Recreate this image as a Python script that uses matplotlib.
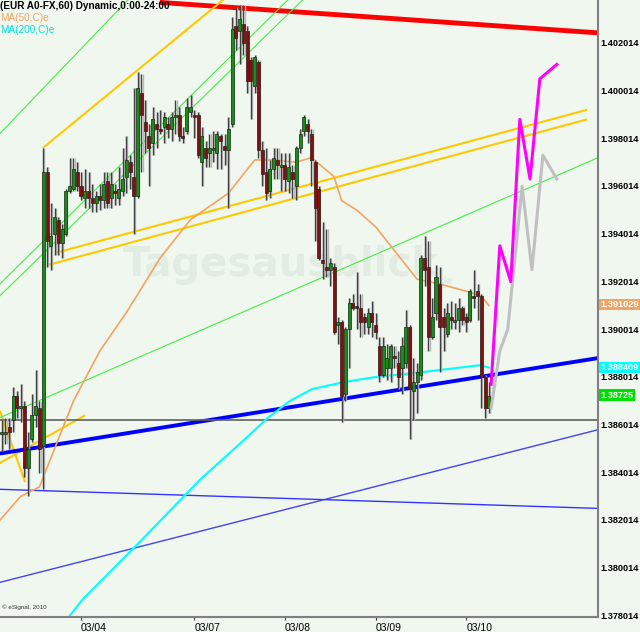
import matplotlib
matplotlib.use("Agg")
import matplotlib.pyplot as plt
import matplotlib.transforms as mtrans

# hourly candles, EUR/USD
opens = [
    1.3856, 1.3856, 1.3859, 1.3862, 1.3872, 1.3867, 1.3868, 1.3842, 1.3854, 1.3864,
    1.3867, 1.3851, 1.3966, 1.3935, 1.3940, 1.3946, 1.3936, 1.3940, 1.3958, 1.3959,
    1.3966, 1.3960, 1.3955, 1.3958, 1.3955, 1.3953, 1.3956, 1.3954, 1.3962, 1.3955,
    1.3958, 1.3955, 1.3958, 1.3964, 1.3970, 1.3964, 1.3956, 1.3999, 1.3987, 1.3981,
    1.3978, 1.3986, 1.3984, 1.3985, 1.3986, 1.3984, 1.3989, 1.3990, 1.3981, 1.3983,
    1.3991, 1.3990, 1.3990, 1.3970, 1.3976, 1.3974, 1.3975, 1.3974, 1.3981, 1.3977,
    1.3975, 1.3986, 1.4027, 1.4025, 1.4028, 1.4025, 1.4013, 1.4002, 1.4012, 1.3975,
    1.3966, 1.3958, 1.3967, 1.3971, 1.3968, 1.3969, 1.3962, 1.3966, 1.3960, 1.3976,
    1.3983, 1.3986, 1.3982, 1.3970, 1.3959, 1.3929, 1.3926, 1.3925, 1.3926, 1.3902,
    1.3903, 1.3873, 1.3900, 1.3911, 1.3910, 1.3909, 1.3905, 1.3901, 1.3907, 1.3902,
    1.3893, 1.3881, 1.3884, 1.3884, 1.3889, 1.3886, 1.3884, 1.3886, 1.3901, 1.3874,
    1.3878, 1.3881, 1.3930, 1.3926, 1.3897, 1.3907, 1.3919, 1.3905, 1.3898, 1.3905,
    1.3903, 1.3904, 1.3909, 1.3905, 1.3904, 1.3914, 1.3916, 1.3914, 1.3880, 1.3867,
]
highs = [
    1.3862, 1.3863, 1.3863, 1.3876, 1.3874, 1.3877, 1.3870, 1.3857, 1.3873, 1.3883,
    1.3870, 1.3976, 1.3968, 1.3953, 1.3951, 1.3947, 1.3944, 1.3959, 1.3972, 1.3972,
    1.3970, 1.3966, 1.3967, 1.3966, 1.3961, 1.3958, 1.3961, 1.3966, 1.3966, 1.3966,
    1.3961, 1.3968, 1.3976, 1.3981, 1.3973, 1.4001, 1.4008, 1.4007, 1.3996, 1.3986,
    1.3993, 1.3991, 1.3992, 1.3991, 1.3989, 1.3991, 1.3996, 1.3993, 1.3985, 1.3997,
    1.3998, 1.3992, 1.3991, 1.3985, 1.3979, 1.3982, 1.3983, 1.3983, 1.3982, 1.3982,
    1.3989, 1.4031, 1.4035, 1.4036, 1.4036, 1.4027, 1.4014, 1.4015, 1.4013, 1.3979,
    1.3976, 1.3971, 1.3976, 1.3976, 1.3974, 1.3974, 1.3974, 1.3969, 1.3977, 1.3984,
    1.3990, 1.3988, 1.3984, 1.3971, 1.3960, 1.3945, 1.3942, 1.3930, 1.3928, 1.3905,
    1.3904, 1.3901, 1.3913, 1.3915, 1.3924, 1.3915, 1.3907, 1.3909, 1.3912, 1.3907,
    1.3897, 1.3897, 1.3894, 1.3894, 1.3893, 1.3891, 1.3897, 1.3908, 1.3902, 1.3888,
    1.3886, 1.3931, 1.3939, 1.3937, 1.3913, 1.3927, 1.3926, 1.3909, 1.3911, 1.3912,
    1.3911, 1.3913, 1.3910, 1.3907, 1.3917, 1.3925, 1.3919, 1.3915, 1.3881, 1.3878,
]
lows = [
    1.3849, 1.3852, 1.3850, 1.3857, 1.3863, 1.3861, 1.3838, 1.3830, 1.3853, 1.3859,
    1.3840, 1.3833, 1.3926, 1.3925, 1.3931, 1.3931, 1.3930, 1.3939, 1.3957, 1.3958,
    1.3958, 1.3954, 1.3951, 1.3951, 1.3949, 1.3949, 1.3950, 1.3951, 1.3951, 1.3951,
    1.3952, 1.3952, 1.3956, 1.3957, 1.3959, 1.3940, 1.3955, 1.3966, 1.3974, 1.3960,
    1.3973, 1.3976, 1.3982, 1.3978, 1.3980, 1.3979, 1.3982, 1.3979, 1.3978, 1.3982,
    1.3989, 1.3980, 1.3972, 1.3960, 1.3968, 1.3968, 1.3970, 1.3967, 1.3967, 1.3969,
    1.3951, 1.3985, 1.4017, 1.4011, 1.4015, 1.3999, 1.3988, 1.3999, 1.3972, 1.3960,
    1.3954, 1.3955, 1.3963, 1.3963, 1.3958, 1.3958, 1.3957, 1.3955, 1.3954, 1.3974,
    1.3981, 1.3978, 1.3960, 1.3937, 1.3929, 1.3921, 1.3922, 1.3918, 1.3898, 1.3894,
    1.3861, 1.3870, 1.3884, 1.3908, 1.3900, 1.3897, 1.3898, 1.3898, 1.3897, 1.3896,
    1.3878, 1.3880, 1.3879, 1.3878, 1.3884, 1.3875, 1.3873, 1.3884, 1.3854, 1.3862,
    1.3865, 1.3879, 1.3918, 1.3891, 1.3896, 1.3904, 1.3882, 1.3891, 1.3897, 1.3900,
    1.3900, 1.3899, 1.3902, 1.3899, 1.3903, 1.3909, 1.3904, 1.3867, 1.3863, 1.3865,
]
closes = [
    1.3857, 1.3857, 1.3857, 1.3872, 1.3867, 1.3868, 1.3842, 1.3850, 1.3864, 1.3868,
    1.3850, 1.3966, 1.3937, 1.3939, 1.3947, 1.3936, 1.3942, 1.3958, 1.3960, 1.3967,
    1.3960, 1.3956, 1.3958, 1.3955, 1.3953, 1.3956, 1.3954, 1.3961, 1.3953, 1.3961,
    1.3957, 1.3959, 1.3963, 1.3971, 1.3966, 1.3956, 1.4001, 1.3990, 1.3983, 1.3976,
    1.3988, 1.3984, 1.3983, 1.3989, 1.3984, 1.3989, 1.3990, 1.3981, 1.3980, 1.3993,
    1.3993, 1.3989, 1.3973, 1.3981, 1.3972, 1.3976, 1.3976, 1.3982, 1.3979, 1.3975,
    1.3984, 1.4026, 1.4022, 1.4030, 1.4020, 1.4004, 1.4004, 1.4014, 1.3975, 1.3965,
    1.3957, 1.3967, 1.3972, 1.3969, 1.3969, 1.3963, 1.3968, 1.3963, 1.3976, 1.3982,
    1.3989, 1.3983, 1.3971, 1.3951, 1.3930, 1.3928, 1.3925, 1.3928, 1.3899, 1.3903,
    1.3872, 1.3900, 1.3911, 1.3909, 1.3909, 1.3903, 1.3903, 1.3907, 1.3903, 1.3899,
    1.3881, 1.3893, 1.3888, 1.3893, 1.3888, 1.3880, 1.3893, 1.3901, 1.3875, 1.3878,
    1.3882, 1.3930, 1.3925, 1.3897, 1.3905, 1.3922, 1.3901, 1.3901, 1.3907, 1.3904,
    1.3904, 1.3909, 1.3904, 1.3903, 1.3916, 1.3913, 1.3914, 1.3880, 1.3867, 1.3872,
]

# moving averages (bar, price)
ma50_bars = [-0.5, 5, 10, 19, 26, 33, 42, 50, 60, 67, 72, 78, 82, 88, 90, 94, 99, 106, 110, 116, 123, 127, 129]
ma50_vals = [1.3820, 1.3830, 1.3834, 1.3870, 1.3891, 1.3907, 1.3930, 1.3946, 1.3957, 1.3971, 1.3971, 1.3970,
             1.3972, 1.3964, 1.3954, 1.3950, 1.3943, 1.3929, 1.3921, 1.3919, 1.3916, 1.3914, 1.3910]
ma200_bars = [16, 21.5, 36.6, 52.5, 64.4, 70.5, 76.3, 82.2, 90.9, 98.8, 110.8, 126.6, 129]
ma200_vals = [1.3776, 1.3787, 1.3811, 1.3837, 1.3854, 1.3863, 1.3870, 1.3875, 1.3878, 1.3880, 1.3882, 1.3885, 1.3884]

# trend lines: ((bar0, bar1), (price0, price1), colour, width)
trend_lines = [
    ((41.9, 160.0), (1.4037, 1.4024), "#ff0000", 3.5),
    ((10.9, 60.5), (1.3976, 1.40405), "#ffc800", 1.5),
    ((14.1, 155.0), (1.3932, 1.3992), "#ffc800", 1.5),
    ((12.3, 155.0), (1.3927, 1.3988), "#ffc800", 1.5),
    ((-0.5, 6.2), (1.3866, 1.3836), "#ffc800", 1.5),
    ((-0.5, 22.1), (1.3844, 1.3864), "#ffc800", 1.5),
    ((-0.5, 77.7), (1.3919, 1.4041), "#44ee44", 0.8),
    ((-0.5, 80.3), (1.3914, 1.4039), "#44ee44", 0.8),
    ((-0.5, 34.0), (1.3982, 1.4039), "#44ee44", 0.8),
    ((-0.5, 158.0), (1.3863, 1.3972), "#44ee44", 0.8),
    ((-0.5, 158.0), (1.3848, 1.3888), "#0000ff", 2.8),
    ((-0.5, 158.0), (1.3833, 1.3825), "#3333ff", 1.0),
    ((-0.5, 158.0), (1.3794, 1.3858), "#4444ee", 1.0),
    ((-0.5, 158.0), (1.3862, 1.3862), "#606060", 1.2),
]

# projected paths
proj_pink_bars = [129.6, 131.9, 134.8, 137.2, 139.9, 142.5, 147.0]
proj_pink_vals = [1.3877, 1.3935, 1.3920, 1.3988, 1.3963, 1.4005, 1.4011]
proj_gray_bars = [129.6, 131.9, 134.0, 137.8, 140.4, 143.3, 147.0]
proj_gray_vals = [1.3867, 1.3891, 1.3900, 1.3960, 1.3925, 1.3973, 1.3963]

date_ticks = [21, 51, 75, 99, 123]
date_labels = ["03/04", "03/07", "03/08", "03/09", "03/10"]
price_ticks = [1.378014 + 0.002 * i for i in range(13)]

bg = "#eff7ef"
fig = plt.figure(figsize=(6.4, 6.32), dpi=100, facecolor=bg)
ax = fig.add_axes([0, 15 / 632, 598 / 640, 617 / 632], facecolor=bg)

for (xs, ys, col, lw) in trend_lines:
    ax.plot(xs, ys, color=col, lw=lw, zorder=2, solid_capstyle="butt")

ax.plot(ma50_bars, ma50_vals, color="#f4a460", lw=1.2, zorder=2)
ax.plot(ma200_bars, ma200_vals, color="#00ffff", lw=1.5, zorder=2)

# candles
idx = list(range(len(opens)))
ax.vlines([i + 0.3 for i in idx], lows, highs, color="#b8b8b8", lw=1.0, zorder=3)
ax.vlines(idx, lows, highs, color="#404040", lw=1.0, zorder=4)
bottoms = [min(o, c) for o, c in zip(opens, closes)]
heights = [max(abs(c - o), 0.00006) for o, c in zip(opens, closes)]
colors = ["#109410" if c >= o else "#8c0c0c" for o, c in zip(opens, closes)]
ax.bar(idx, heights, bottom=bottoms, width=0.8, color=colors, edgecolor="#202020", linewidth=0.5, zorder=5)

ax.plot(proj_gray_bars, proj_gray_vals, color="#c0c0c0", lw=2.2, zorder=6)
ax.plot(proj_pink_bars, proj_pink_vals, color="#ff00ff", lw=2.2, zorder=7)

ax.set_xlim(-0.45, 157.9)
ax.set_ylim(1.37795, 1.40380)

ax.yaxis.tick_right()
ax.set_yticks(price_ticks)
ax.set_yticklabels([f"{v:.6f}" for v in price_ticks], fontfamily="Liberation Sans",
                   fontweight="bold", fontsize=6.6)
ax.tick_params(axis="y", length=0, pad=1.5)
ax.set_xticks(date_ticks)
ax.set_xticklabels(date_labels, fontfamily="Liberation Sans", fontsize=7.5)
for lab in ax.get_xticklabels():
    lab.set_horizontalalignment("left")
ax.tick_params(axis="x", length=2, pad=2, color="#404040")
for s in ["left", "top"]:
    ax.spines[s].set_visible(False)
for s in ["right", "bottom"]:
    ax.spines[s].set_color("#808080")
    ax.spines[s].set_linewidth(1.5)

# value tags on the right
tr = mtrans.blended_transform_factory(ax.transAxes, ax.transData)
for val, txt, col in [(1.39103, "1.391029", "#f4a460"), (1.38841, "1.388409", "#00ffff"),
                      (1.38725, "1.38725", "#00e000")]:
    ax.text(1.004, val, txt, transform=tr, va="center", ha="left", color="white",
            fontfamily="Liberation Sans", fontweight="bold", fontsize=6.6, clip_on=False,
            bbox=dict(boxstyle="square,pad=0.12", fc=col, ec="none"), zorder=10)

# header
ax.text(0.0, 0.999, "(EUR A0-FX,60) Dynamic,0:00-24:00", transform=ax.transAxes, va="top", ha="left",
        fontfamily="Liberation Sans", fontweight="bold", fontsize=7.2, color="black", zorder=10)
ax.text(0.0, 0.979, "MA(50,C)e", transform=ax.transAxes, va="top", ha="left",
        fontfamily="Liberation Sans", fontsize=7.2, color="#f4a460", zorder=10)
ax.text(0.0, 0.959, "MA(200,C)e", transform=ax.transAxes, va="top", ha="left",
        fontfamily="Liberation Sans", fontsize=7.2, color="#00e0e0", zorder=10)
ax.text(0.003, 0.012, "© eSignal, 2010", transform=ax.transAxes, va="bottom", ha="left",
        fontfamily="Liberation Sans", fontsize=4.5, color="#303030", zorder=10)

# watermark
ax.text(0.47, 0.57, "Tagesausblick", transform=ax.transAxes, va="center", ha="center",
        fontfamily="DejaVu Sans", fontweight="bold", fontsize=29, color="#e2ece2", zorder=1)
ax.text(0.735, 0.545, "de", transform=ax.transAxes, va="center", ha="left",
        fontfamily="DejaVu Sans", fontweight="bold", fontsize=7, color="#e2ece2", zorder=1)

fig.savefig("out.png", dpi=100, facecolor=bg)
